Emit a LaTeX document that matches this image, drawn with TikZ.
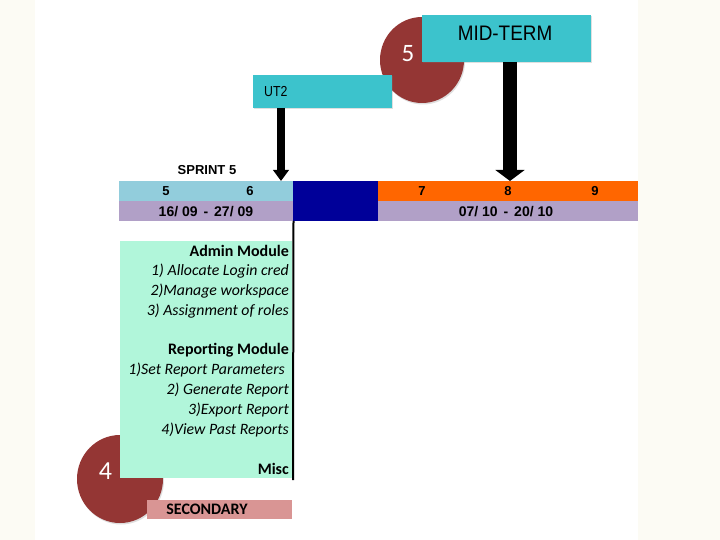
\documentclass[tikz,border=0pt]{standalone}
\usepackage{fontspec}
\usepackage{graphicx}
\setmainfont{Carlito}
\newfontfamily\arial{Liberation Sans}
\usetikzlibrary{arrows.meta,shadows,shapes.geometric}
\definecolor{offwhite}{HTML}{FCFBF4}
\definecolor{teal}{HTML}{3CC3CC}
\definecolor{maroon}{HTML}{943634}
\definecolor{lblue}{HTML}{92CDDC}
\definecolor{dblue}{HTML}{000099}
\definecolor{orng}{HTML}{FF6600}
\definecolor{lilac}{HTML}{B1A0C7}
\definecolor{mint}{HTML}{B1F6DA}
\definecolor{rosebar}{HTML}{D99594}
\tikzset{
  cell/.style={rectangle, inner sep=0pt, outer sep=0pt, draw=none},
  tealbox/.style={cell, fill=teal, drop shadow={shadow xshift=1.2pt, shadow yshift=-1.5pt, opacity=0.25}},
  disc/.style={ellipse, inner sep=0pt, fill=maroon, minimum width=84pt, minimum height=86pt, drop shadow={shadow xshift=1pt, shadow yshift=-1.5pt, opacity=0.25}},
  disctxt/.style={inner sep=0pt, text=white, font=\fontsize{25}{25}\selectfont},
  num/.style={inner sep=0pt, font=\arial\bfseries\fontsize{13}{13}\selectfont},
  dates/.style={inner sep=0pt, font=\arial\bfseries\fontsize{14}{14}\selectfont},
  item/.style={anchor=east, inner sep=0pt, font=\fontsize{15.8}{16}\selectfont\itshape},
  head/.style={anchor=east, inner sep=0pt, font=\fontsize{16}{16}\selectfont\bfseries},
  bigarrow/.style={line width=#1, -{Triangle[width=2.05*#1, length=11pt]}},
}
\begin{document}
\begin{tikzpicture}[x=1pt,y=-1pt]
\useasboundingbox (0,0) rectangle (720,540);
\fill[offwhite] (0,0) rectangle (720,540);
\fill[white] (35,0) rectangle (638,540);

% circle 5 behind the boxes
\node[disc] (c5) at (422,60) {};
\node[disctxt] (c5t) at (408,54) {5};

% milestone boxes
\node[tealbox, minimum width=169pt, minimum height=47pt] (mid) at (506.5,38.5) {};
\node[inner sep=0pt, font=\arial\fontsize{21}{21}\selectfont] (midt) at (505,33.5) {\scalebox{0.9}[1]{MID-TERM}};
\node[tealbox, minimum width=139pt, minimum height=33pt] (ut2) at (322.5,91.5) {};
\node[inner sep=0pt, anchor=west, font=\arial\fontsize{14.5}{14.5}\selectfont] (ut2t) at (264,92) {\scalebox{0.85}[1]{UT2}};

% sprint label
\node[inner sep=0pt, font=\arial\bfseries\fontsize{13}{13}\selectfont] (spr) at (207,170.5) {SPRINT 5};

% timeline rows
\node[cell, fill=lblue, minimum width=174pt, minimum height=20pt] (wa) at (206,191) {};
\node[cell, fill=lilac, minimum width=174pt, minimum height=20pt] (da) at (206,211) {};
\node[cell, fill=dblue, minimum width=85pt, minimum height=40pt] (gap) at (335.5,201) {};
\node[cell, fill=orng, minimum width=260pt, minimum height=20pt] (wb) at (508,191) {};
\node[cell, fill=lilac, minimum width=260pt, minimum height=20pt] (db) at (508,211) {};

\node[num] (n5) at (166,191) {5};
\node[num] (n6) at (250,191) {6};
\node[num] (n7) at (422,191) {7};
\node[num] (n8) at (508,191) {8};
\node[num] (n9) at (595,191) {9};
\node[dates] (d1) at (206,211.5) {16/\hspace{4pt}09\hspace{2pt} - \hspace{2pt}27/\hspace{4pt}09};
\node[dates] (d2) at (506,211.5) {07/\hspace{4pt}10\hspace{2pt} - \hspace{2pt}20/\hspace{4pt}10};

% arrows
\coordinate (a1s) at (281,108);
\coordinate (a1e) at (281,181);
\coordinate (a2s) at (510,62);
\coordinate (a2e) at (510,181);
\draw[bigarrow=7.5pt] (a1s) -- (a1e);
\draw[bigarrow=14pt] (a2s) -- (a2e);

% circle 4 behind the module box
\node[disc, minimum width=86pt, minimum height=88pt] (c4) at (120,479) {};

% module box
\node[cell, fill=mint, minimum width=172pt, minimum height=237pt] (mod) at (206,359.5) {};
\node[disctxt, font=\fontsize{26}{26}\selectfont] (c4t) at (105.5,471) {4};
\coordinate (vlb) at (293,480);
\draw[line width=2pt] (gap.south west) ++(0.5,0) -- (vlb);

\node[head] (h1) at (289,251) {Admin Module};
\node[item] (i1) at (289,271) {1) Allocate Login cred};
\node[item] (i2) at (289,291) {2)Manage workspace};
\node[item] (i3) at (289,311) {3) Assignment of roles};
\node[head] (h2) at (289,350) {Reporting Module};
\node[item] (i4) at (285,370) {1)Set Report Parameters};
\node[item] (i5) at (289,390) {2) Generate Report};
\node[item] (i6) at (289,410) {3)Export Report};
\node[item] (i7) at (289,430) {4)View Past Reports};
\node[head] (h3) at (289,469) {Misc};

% secondary bar
\node[cell, fill=rosebar, minimum width=145pt, minimum height=19pt] (sec) at (219.5,509.5) {};
\node[inner sep=0pt, font=\fontsize{16}{16}\selectfont\bfseries] (sect) at (207,509.5) {SECONDARY};
\end{tikzpicture}
\end{document}
